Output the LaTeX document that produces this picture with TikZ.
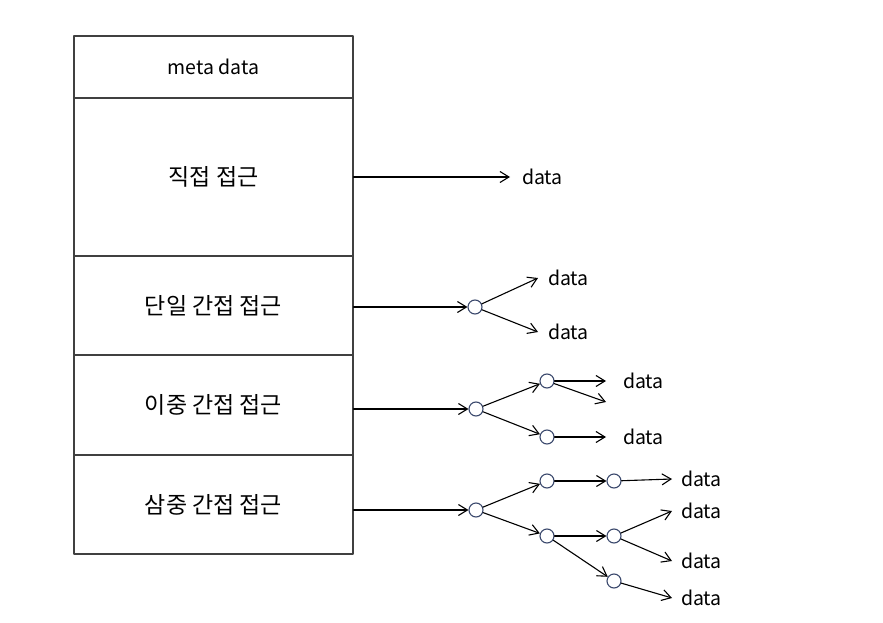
\documentclass[tikz,border=0pt]{standalone}
\usepackage{fontspec}
\setmainfont{Noto Sans CJK KR}
\usetikzlibrary{arrows.meta}
\definecolor{boxgray}{RGB}{64,64,64}
\definecolor{ptrblue}{RGB}{58,72,108}
\begin{document}
\begin{tikzpicture}[x=1pt,y=-1pt,line join=round,line cap=round,>={Straight Barb[length=9pt,width=11pt]},line width=1.1pt]
\tikzset{row/.style={draw=boxgray,minimum width=279pt,inner sep=0pt,font=\fontsize{23}{26}\selectfont},
	ptr/.style={circle,draw=ptrblue,fill=white,minimum size=14pt,inner sep=0pt},
	dat/.style={anchor=west,inner sep=0pt,outer sep=10pt,font=\fontsize{19.5}{22}\selectfont}}
\useasboundingbox (0,0) rectangle (883,623);
\node[row,minimum height=62pt,font=\fontsize{19.5}{22}\selectfont] (meta) at (213.5,67) {meta data};
\node[row,minimum height=158pt] (direct) at (213.5,177) {직접 접근};
\node[row,minimum height=99pt] (single) at (213.5,305.5) {단일 간접 접근};
\node[row,minimum height=100pt] (double) at (213.5,405) {이중 간접 접근};
\node[row,minimum height=99pt] (triple) at (213.5,504.5) {삼중 간접 접근};
\node[dat,outer sep=12pt] (d0) at (510,177) {data};
\draw[->] (direct.east) -- (d0.west);
\node[ptr] (s1) at (475,307) {};
\node[dat] (d1) at (538,278) {data};
\node[dat] (d2) at (538,332) {data};
\draw[->] (single.east |- s1) -- (s1);
\foreach \d in {d1,d2}
	\draw[->] (s1) -- (\d.west);
\node[ptr] (q1) at (476,409) {};
\node[ptr] (q2) at (547,381) {};
\node[ptr] (q3) at (547,437) {};
\coordinate (q4) at (606,402);
\node[dat,outer sep=17pt] (d3) at (606,381) {data};
\node[dat,outer sep=17pt] (d4) at (606,437) {data};
\draw[->] (double.east |- q1) -- (q1);
\draw[->] (q1) -- (q2);
\draw[->] (q1) -- (q3);
\draw[->] (q2) -- (d3.west);
\draw[->] (q2) -- (q4);
\draw[->] (q3) -- (d4.west);
\node[ptr] (t1) at (476,510) {};
\node[ptr] (t2) at (547,481) {};
\node[ptr] (t3) at (547,536) {};
\node[ptr] (t4) at (614,481) {};
\node[ptr] (t5) at (614,536) {};
\node[ptr] (t6) at (614,581) {};
\node[dat,outer sep=9pt] (d5) at (672,479) {data};
\node[dat,outer sep=9pt] (d6) at (672,511) {data};
\node[dat,outer sep=9pt] (d7) at (672,561) {data};
\node[dat,outer sep=9pt] (d8) at (672,598) {data};
\draw[->] (triple.east |- t1) -- (t1);
\draw[->] (t1) -- (t2);
\draw[->] (t1) -- (t3);
\draw[->] (t2) -- (t4);
\draw[->] (t3) -- (t5);
\draw[->] (t3) -- (t6);
\draw[->] (t4) -- (d5.west);
\draw[->] (t5) -- (d6.west);
\draw[->] (t5) -- (d7.west);
\draw[->] (t6) -- (d8.west);
\end{tikzpicture}
\end{document}
